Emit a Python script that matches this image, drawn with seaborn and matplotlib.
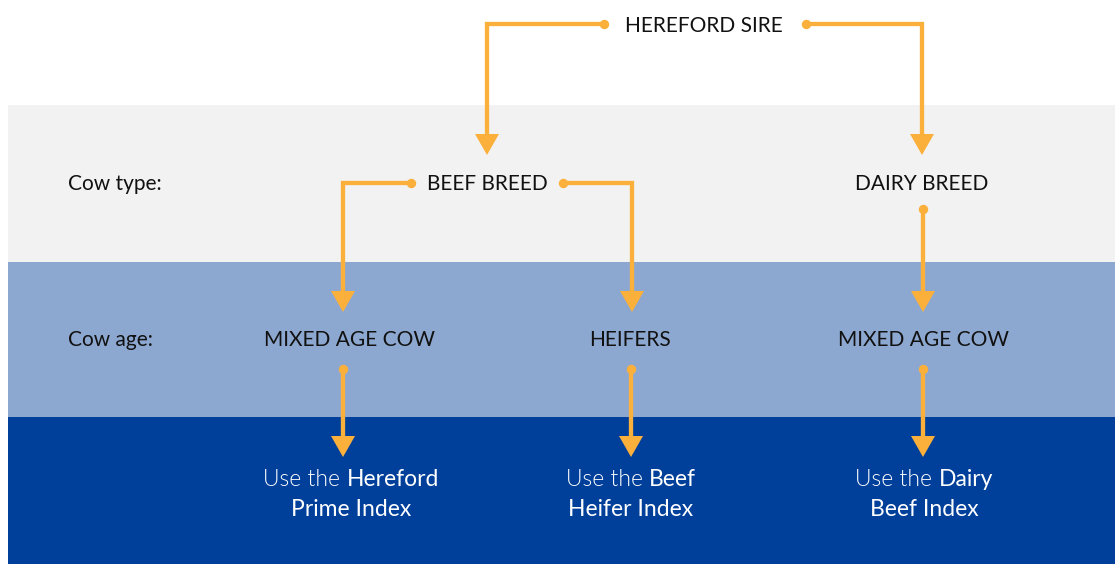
import matplotlib
matplotlib.use("Agg")
import matplotlib.pyplot as plt
import seaborn as sns
import pandas as pd

W, H = 1115, 564

# horizontal bands
band_top = [105, 262, 417]
band_bottom = [262, 417, 570]
band_colors = ["#F2F2F2", "#8DA8D0", "#00409A"]
band_left = 8

# nodes
node_labels = ["HEREFORD SIRE", "BEEF BREED", "DAIRY BREED",
               "MIXED AGE COW", "HEIFERS", "MIXED AGE COW"]
node_x = [704, 487, 922, 350, 630, 923]
node_y = [26, 184, 184, 340, 340, 340]

# row labels
row_labels = ["Cow type:", "Cow age:"]
row_label_x = [68, 68]
row_label_y = [184, 340]

# results
result_light = ["Use the ", "Use the ", "Use the "]
result_bold1 = ["Hereford", "Beef", "Dairy"]
result_line2 = ["Prime Index", "Heifer Index", "Beef Index"]
result_x = [351, 631, 924]
result_y1 = [479, 479, 479]
result_y2 = [509, 509, 509]

# connectors: start dot, corner x / end x, arrow tip y
conn_start_x = [604, 806, 411, 563, 923, 343, 631, 923]
conn_start_y = [24, 24, 183, 183, 209, 369, 369, 369]
conn_end_x = [487, 922, 343, 632, 923, 343, 631, 923]
conn_tip_y = [155, 155, 312, 312, 312, 457, 457, 457]

ORANGE = "#FCB03C"
HEAD_W = 24
HEAD_H = 21

sns.set_theme(style="white")
plt.rcParams['font.family'] = ['Lato', 'DejaVu Sans']

fig = plt.figure(figsize=(W / 100, H / 100), dpi=100)
ax = fig.add_axes([0, 0, 1, 1])

for t, b, c in zip(band_top, band_bottom, band_colors):
    ax.axhspan(t, b, xmin=band_left / W, xmax=1, color=c, lw=0, zorder=0)

# connector paths
rows = []
for i, (sx, sy, ex, ty) in enumerate(zip(conn_start_x, conn_start_y, conn_end_x, conn_tip_y)):
    pts = [(sx, sy)]
    if ex != sx:
        pts.append((ex, sy))
    pts.append((ex, ty - HEAD_H + 2))
    for k, (x, y) in enumerate(pts):
        rows.append({"conn": i, "order": k, "x": x, "y": y})
df = pd.DataFrame(rows)

sns.lineplot(data=df, x="x", y="y", units="conn", estimator=None, sort=False,
             color=ORANGE, lw=3.1, ax=ax, zorder=2,
             solid_joinstyle="miter", solid_capstyle="butt")
dots = pd.DataFrame({"x": conn_start_x, "y": conn_start_y})
sns.scatterplot(data=dots, x="x", y="y", color=ORANGE, s=46, linewidth=0, ax=ax, zorder=3)
for ex, ty in zip(conn_end_x, conn_tip_y):
    ax.fill([ex - HEAD_W / 2, ex + HEAD_W / 2, ex], [ty - HEAD_H, ty - HEAD_H, ty],
            color=ORANGE, lw=0, zorder=3)
ax.set_xlim(0, W)
ax.set_ylim(H, 0)
ax.axis("off")

FS = 15
FS_RES = 16.5
TXT = "#111111"
for lab, x, y in zip(node_labels, node_x, node_y):
    ax.text(x, y, lab, ha="center", va="center", fontsize=FS, color=TXT, zorder=4)
for lab, x, y in zip(row_labels, row_label_x, row_label_y):
    ax.text(x, y, lab, ha="left", va="center", fontsize=FS, color=TXT, zorder=4)

renderer = fig.canvas.get_renderer()
for lt, bt, l2, x, y1, y2 in zip(result_light, result_bold1, result_line2,
                                   result_x, result_y1, result_y2):
    t1 = ax.text(0, y1, lt, ha="left", va="center", fontsize=FS_RES, color="white",
                 fontweight=300, zorder=4)
    t2 = ax.text(0, y1, bt, ha="left", va="center", fontsize=FS_RES, color="white",
                 fontweight="normal", zorder=4)
    w1 = t1.get_window_extent(renderer).width
    w2 = t2.get_window_extent(renderer).width
    left = x - (w1 + w2) / 2
    t1.set_x(left)
    t2.set_x(left + w1)
    ax.text(x, y2, l2, ha="center", va="center", fontsize=FS_RES, color="white",
            fontweight="normal", zorder=4)

fig.savefig("out.png", dpi=100)
